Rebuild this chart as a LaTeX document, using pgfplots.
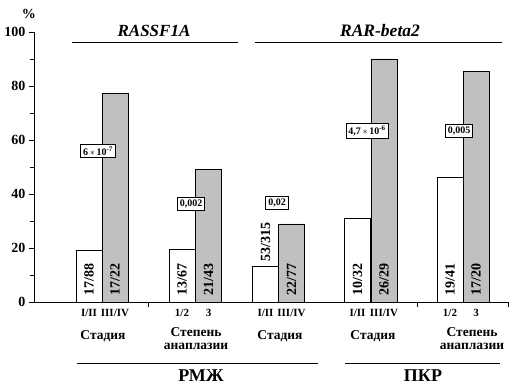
\documentclass[border=0pt]{standalone}
\usepackage{fontspec}
\setmainfont{Liberation Serif}
\usepackage{pgfplots}
\pgfplotsset{compat=1.18}
\definecolor{bargrey}{RGB}{192,192,192}
\begin{document}
\begin{tikzpicture}
\begin{axis}[
  x=1pt, y=2.7pt,
  xmin=34, xmax=508, ymin=0, ymax=100,
  axis x line*=bottom, axis y line*=left,
  axis line style={-, line width=0.8pt},
  ytick={0,20,...,100}, minor ytick={10,30,...,90},
  xtick={148,417,508}, xticklabels={},
  tick align=outside, major tick length=5pt, minor tick length=4pt,
  every tick/.style={black, line width=0.8pt},
  yticklabel style={font=\bfseries\fontsize{14}{14}\selectfont},
  /pgf/number format/assume math mode=true,
  clip=false,
]
% white bars (lower stage / grade)
\addplot[ybar, bar width=26, bar shift=0pt, draw=black, line width=0.7pt, fill=white]
  coordinates {(89,19.3) (182,19.4) (265.5,13.3) (357.5,31.1) (450,46.3)};
% grey bars (higher stage / grade)
\addplot[ybar, bar width=26, bar shift=0pt, draw=black, line width=0.7pt, fill=bargrey]
  coordinates {(115,77.3) (208.5,49.0) (291.5,28.9) (384,90.0) (476,85.3)};

\coordinate (bl) at (axis cs:0,-32.2);
\coordinate (tr) at (axis cs:519,111.85);

% fractions
\begin{scope}[font=\bfseries\fontsize{14}{14}\selectfont]
\node[rotate=90, anchor=west, inner sep=0pt] at (axis cs:89,2.2) {17/88};
\node[rotate=90, anchor=west, inner sep=0pt] at (axis cs:115,2.2) {17/22};
\node[rotate=90, anchor=west, inner sep=0pt] at (axis cs:182,2.2) {13/67};
\node[rotate=90, anchor=west, inner sep=0pt] at (axis cs:208.5,2.2) {21/43};
\node[rotate=90, anchor=west, inner sep=0pt] at (axis cs:265.5,14.8) {53/315};
\node[rotate=90, anchor=west, inner sep=0pt] at (axis cs:291.5,2.2) {22/77};
\node[rotate=90, anchor=west, inner sep=0pt] at (axis cs:357.5,2.2) {10/32};
\node[rotate=90, anchor=west, inner sep=0pt] at (axis cs:384,2.2) {26/29};
\node[rotate=90, anchor=west, inner sep=0pt] at (axis cs:450,2.2) {19/41};
\node[rotate=90, anchor=west, inner sep=0pt] at (axis cs:476,2.2) {17/20};
\end{scope}

% p-value boxes
\begin{scope}[every node/.style={draw=black, line width=0.7pt, fill=white, inner xsep=2.5pt, inner ysep=2.5pt, font=\bfseries\fontsize{10}{10}\selectfont}]
\node at (axis cs:98,55.9) {6\,$\ast$\,10\textsuperscript{-7}};
\node at (axis cs:191,36.3) {0,002};
\node at (axis cs:277,36.7) {0,02};
\node at (axis cs:367,63.3) {4,7\,$\ast$\,10\textsuperscript{-6}};
\node at (axis cs:459,63.3) {0,005};
\end{scope}

% percent sign
\node[font=\bfseries\fontsize{14}{14}\selectfont] at (axis cs:29,106.7) {\%};

% gene titles
\node[font=\bfseries\itshape\fontsize{17}{17}\selectfont] at (axis cs:154,100.4) {RASSF1A};
\node[font=\bfseries\itshape\fontsize{17.5}{17.5}\selectfont] at (axis cs:380,100.7) {RAR-beta2};
\draw[line width=0.8pt] (axis cs:72,96.3) -- (axis cs:238,96.3);
\draw[line width=0.8pt] (axis cs:255,96.3) -- (axis cs:502,96.3);

% bar labels
\begin{scope}[every node/.style={font=\bfseries\fontsize{11}{11}\selectfont, inner sep=0pt}]
\node at (axis cs:89,-4.1) {I/II};
\node at (axis cs:115,-4.1) {III/IV};
\node at (axis cs:182,-4.1) {1/2};
\node at (axis cs:208.5,-4.1) {3};
\node at (axis cs:265.5,-4.1) {I/II};
\node at (axis cs:291.5,-4.1) {III/IV};
\node at (axis cs:357.5,-4.1) {I/II};
\node at (axis cs:384,-4.1) {III/IV};
\node at (axis cs:450,-4.1) {1/2};
\node at (axis cs:476,-4.1) {3};
\end{scope}

% category labels
\begin{scope}[every node/.style={font=\bfseries\fontsize{13.5}{13}\selectfont, inner sep=0pt, align=center}]
\node at (axis cs:103,-12.6) {Стадия};
\node at (axis cs:196,-13.7) {Степень\\анаплазии};
\node at (axis cs:280,-12.6) {Стадия};
\node at (axis cs:373,-12.6) {Стадия};
\node at (axis cs:472,-13.7) {Степень\\анаплазии};
\end{scope}

% cancer types
\draw[line width=0.8pt] (axis cs:77,-22.6) -- (axis cs:318,-22.6);
\draw[line width=0.8pt] (axis cs:345,-22.6) -- (axis cs:500,-22.6);
\node[font=\bfseries\fontsize{18}{18}\selectfont] at (axis cs:201,-27.4) {РМЖ};
\node[font=\bfseries\fontsize{18}{18}\selectfont] at (axis cs:423,-27.4) {ПКР};
\end{axis}
\pgfresetboundingbox
\useasboundingbox (bl) rectangle (tr);
\end{tikzpicture}
\end{document}
